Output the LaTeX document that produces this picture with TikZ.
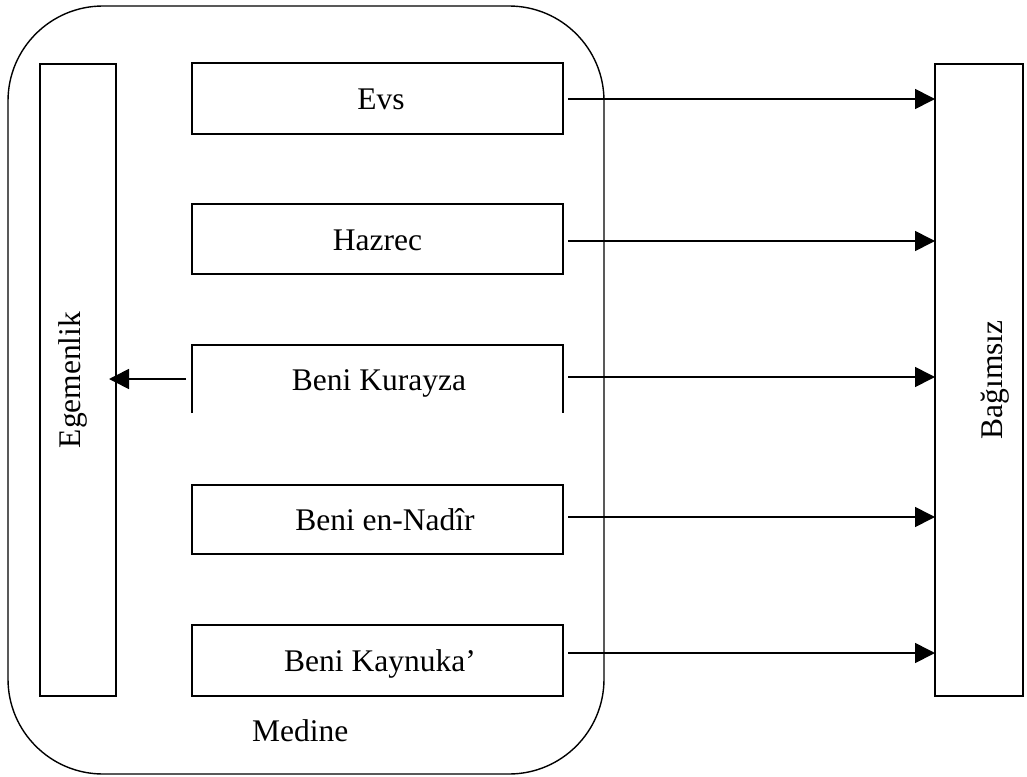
\documentclass[tikz,border=0pt]{standalone}
\usepackage{fontspec}
\setmainfont{Liberation Serif}
\usetikzlibrary{arrows.meta,calc}
\begin{document}
\begin{tikzpicture}[x=1pt,y=-1pt,
  box/.style={draw, line width=2pt, inner sep=0pt, outer sep=0pt},
  lbl/.style={font=\fontsize{31.5}{36}\selectfont, inner sep=0pt, anchor=base},
  arr/.style={line width=1.6pt, -{Triangle[length=20pt,width=20pt]}}
]
\useasboundingbox (0,0) rectangle (1027,776);
\node[draw, line width=1.4pt, rounded corners=95pt, minimum width=596pt, minimum height=768pt, inner sep=0pt, outer sep=0pt] (medine) at (306,390) {};
\node[box, minimum width=76pt, minimum height=632pt] (ege) at (78,380) {};
\node[box, minimum width=88pt, minimum height=632pt] (bag) at (979,380) {};
\node[box, minimum width=371pt, minimum height=71pt] (evs) at (377.5,98.5) {};
\node[box, minimum width=371pt, minimum height=70pt] (haz) at (377.5,239) {};
\node[inner sep=0pt, outer sep=0pt, minimum width=371pt, minimum height=68pt] (kur) at (377.5,379) {};
\draw[line width=2pt] (kur.south west) -- (kur.north west) -- (kur.north east) -- (kur.south east);
\node[box, minimum width=371pt, minimum height=69pt] (nad) at (377.5,519.5) {};
\node[box, minimum width=371pt, minimum height=71pt] (kay) at (377.5,660.5) {};

\node[lbl] (tevs) at (381,109) {Evs};
\node[lbl] (thaz) at (377.5,250) {Hazrec};
\node[lbl] (tkur) at (379,390) {Beni Kurayza};
\node[lbl] (tnad) at (385,530) {Beni en-Nadîr};
\node[lbl] (tkay) at (380,671) {Beni Kaynuka’};
\node[lbl, anchor=base west] (tmed) at (252,741) {Medine};
\node[lbl, rotate=90] (tege) at (80,380) {Egemenlik};
\node[lbl, rotate=90] (tbag) at (1002,380) {Bağımsız};

\draw[arr] ([shift={(5pt,-0.5pt)}]evs.east) coordinate (a1) -- (a1 -| bag.west);
\draw[arr] ([shift={(5pt,-2pt)}]haz.east) coordinate (a2) -- (a2 -| bag.west);
\draw[arr] ([shift={(5pt,2pt)}]kur.east) coordinate (a3) -- (a3 -| bag.west);
\draw[arr] ([shift={(5pt,2.5pt)}]nad.east) coordinate (a4) -- (a4 -| bag.west);
\draw[arr] ([shift={(5pt,7.5pt)}]kay.east) coordinate (a5) -- (a5 -| bag.west);
\draw[arr] ([xshift=-6pt]kur.west) coordinate (b1) -- ($(b1 -| ege.east)+(-7pt,0pt)$);
\end{tikzpicture}
\end{document}
